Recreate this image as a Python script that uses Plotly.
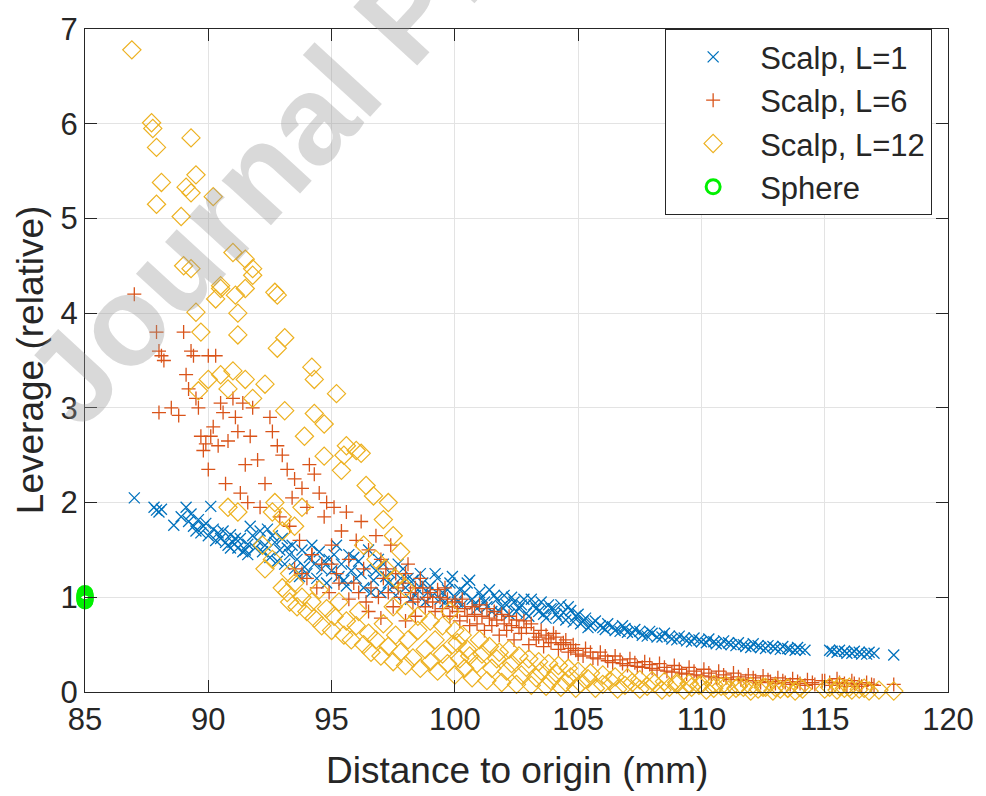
import plotly.graph_objects as go

# ---------------- data ----------------
blue_pts = [
    (87.0, 2.05), (87.8, 1.95), (87.9, 1.92), (88.0, 1.90), (88.1, 1.93), (88.6, 1.76), (88.9, 1.85),
    (89.1, 1.95), (89.2, 1.80), (89.3, 1.88), (89.4, 1.75), (89.5, 1.70), (89.6, 1.82), (89.7, 1.68),
    (89.8, 1.75), (89.9, 1.78), (90.1, 1.96), (90.0, 1.65), (90.2, 1.72), (90.3, 1.60), (90.4, 1.68),
    (90.5, 1.62), (90.6, 1.70), (90.7, 1.58), (90.8, 1.55), (90.9, 1.66), (90.9, 1.52), (91.0, 1.58),
    (91.1, 1.62), (91.2, 1.52), (91.3, 1.62), (91.4, 1.48), (91.5, 1.50), (91.6, 1.56), (91.6, 1.45),
    (91.7, 1.75), (91.8, 1.65), (91.9, 1.52), (92.0, 1.60), (92.1, 1.70), (92.2, 1.48), (92.3, 1.55),
    (92.4, 1.72), (92.5, 1.42), (92.6, 1.65), (92.7, 1.58), (92.8, 1.38), (92.9, 1.50), (93.0, 1.62),
    (93.1, 1.35), (93.2, 1.52), (93.3, 1.45), (93.4, 1.55), (93.5, 1.30), (93.6, 1.40), (93.7, 1.22),
    (93.8, 1.50), (93.9, 1.32), (94.0, 1.25), (94.1, 1.42), (94.2, 1.55), (94.3, 1.35), (94.4, 1.20),
    (94.5, 1.48), (94.6, 1.30), (94.7, 1.38), (94.8, 1.15), (94.9, 1.40), (95.0, 1.28), (95.1, 1.45),
    (95.2, 1.55), (95.3, 1.22), (95.4, 1.35), (95.5, 1.18), (95.6, 1.12), (95.7, 1.45), (95.8, 1.28),
    (95.9, 1.42), (96.0, 1.20), (96.1, 1.38), (96.2, 1.25), (96.3, 1.10), (96.4, 1.30), (96.5, 1.50),
    (96.6, 1.05), (96.7, 1.18), (96.8, 1.28), (96.9, 1.40), (97.0, 1.05), (97.1, 1.35), (97.2, 1.22),
    (97.3, 1.15), (97.4, 1.25), (97.5, 1.12), (97.6, 1.02), (97.7, 1.35), (97.8, 1.20), (97.9, 1.30),
    (98.0, 1.10), (98.1, 1.20), (98.2, 0.98), (98.3, 1.18), (98.4, 1.02), (98.5, 1.08), (98.6, 1.25),
    (98.7, 1.15), (98.8, 0.95), (98.9, 1.05), (99.0, 1.12), (99.1, 1.02), (99.2, 1.25), (99.3, 1.20),
    (99.4, 0.98), (99.5, 1.05), (99.6, 0.95), (99.7, 1.08), (99.8, 1.15), (99.9, 1.22), (100.0, 1.00),
    (100.1, 0.95), (100.2, 1.08), (100.3, 0.92), (100.4, 1.05), (100.5, 1.15), (100.6, 1.18),
    (100.7, 0.98), (100.8, 0.93), (100.9, 0.88), (101.0, 1.05), (101.1, 1.00), (101.2, 0.95),
    (101.3, 0.90), (101.4, 1.08), (101.5, 0.85), (101.6, 1.02), (101.7, 0.98), (101.8, 0.85),
    (101.9, 0.90), (102.0, 1.02), (102.1, 0.92), (102.2, 0.82), (102.3, 1.00), (102.4, 0.95),
    (102.5, 0.85), (102.6, 0.88), (102.7, 0.92), (102.8, 0.98), (102.9, 0.83), (103.0, 0.80),
    (103.1, 0.98), (103.2, 0.92), (103.3, 0.88), (103.4, 0.85), (103.5, 0.95), (103.6, 0.82),
    (103.7, 0.78), (103.8, 0.92), (103.9, 0.88), (104.0, 0.88), (104.1, 0.82), (104.2, 0.78),
    (104.3, 0.92), (104.4, 0.84), (104.5, 0.76), (104.6, 0.90), (104.7, 0.86), (104.8, 0.74),
    (104.9, 0.80), (105.0, 0.82), (105.1, 0.72), (105.2, 0.75), (105.3, 0.78), (105.4, 0.68),
    (105.5, 0.70), (105.6, 0.73), (105.7, 0.75), (105.9, 0.70), (106.0, 0.68), (106.1, 0.66),
    (106.2, 0.72), (106.4, 0.69), (106.5, 0.65), (106.7, 0.64), (106.8, 0.70), (106.9, 0.67),
    (107.0, 0.63), (107.2, 0.62), (107.3, 0.66), (107.5, 0.64), (107.6, 0.60), (107.8, 0.59),
    (107.9, 0.64), (108.0, 0.62), (108.2, 0.58), (108.4, 0.58), (108.5, 0.62), (108.7, 0.59),
    (108.8, 0.56), (109.0, 0.55), (109.1, 0.59), (109.3, 0.57), (109.4, 0.54), (109.6, 0.53),
    (109.7, 0.57), (109.9, 0.55), (110.0, 0.53), (110.2, 0.52), (110.3, 0.56), (110.5, 0.53),
    (110.6, 0.51), (110.8, 0.50), (110.9, 0.54), (111.1, 0.52), (111.2, 0.50), (111.4, 0.49),
    (111.5, 0.52), (111.7, 0.50), (111.8, 0.48), (112.0, 0.47), (112.1, 0.51), (112.3, 0.49),
    (112.4, 0.47), (112.6, 0.46), (112.7, 0.49), (112.9, 0.48), (113.0, 0.46), (113.2, 0.45),
    (113.3, 0.48), (113.5, 0.46), (113.6, 0.45), (113.8, 0.44), (113.9, 0.47), (114.0, 0.45),
    (114.2, 0.44), (115.2, 0.44), (115.3, 0.43), (115.5, 0.42), (115.6, 0.44), (115.8, 0.43),
    (115.9, 0.41), (116.1, 0.41), (116.2, 0.43), (116.4, 0.42), (116.5, 0.40), (116.7, 0.40),
    (116.8, 0.42), (117.0, 0.41), (117.8, 0.39),
]

red_pts = [
    (87.0, 4.20), (87.9, 3.80), (88.0, 3.60), (88.1, 3.55), (88.2, 3.50), (88.0, 2.95), (88.5, 3.00),
    (88.8, 2.92), (89.0, 3.80), (89.1, 3.35), (89.2, 3.20), (89.3, 3.60), (89.4, 3.55), (89.5, 3.10),
    (89.6, 3.00), (89.7, 2.70), (89.8, 2.55), (89.9, 2.62), (90.0, 3.55), (90.0, 2.35), (90.1, 2.70),
    (90.2, 2.80), (90.3, 3.55), (90.4, 2.60), (90.5, 3.05), (90.6, 2.95), (90.7, 2.20), (90.8, 2.65),
    (91.0, 3.10), (91.1, 2.90), (91.2, 2.75), (91.3, 2.10), (91.4, 3.05), (91.5, 2.40), (91.6, 2.00),
    (91.7, 2.70), (91.8, 3.00), (92.0, 2.45), (92.1, 1.95), (92.3, 2.20), (92.5, 2.90), (92.6, 2.75),
    (92.8, 2.60), (92.9, 1.85), (93.0, 2.50), (93.2, 2.35), (93.3, 1.75), (93.4, 2.05), (93.5, 2.25),
    (93.7, 1.60), (93.8, 2.15), (94.0, 1.95), (94.1, 2.40), (94.2, 1.45), (94.3, 2.30), (94.5, 2.10),
    (94.6, 1.35), (94.7, 1.85), (94.8, 2.00), (95.0, 1.55), (95.1, 1.95), (95.2, 1.25), (95.4, 1.70),
    (95.6, 1.90), (95.7, 1.40), (95.9, 1.15), (96.0, 1.60), (96.2, 1.80), (96.3, 1.30), (96.5, 1.50),
    (96.6, 1.10), (96.8, 1.65), (97.0, 1.40), (97.1, 1.20), (97.3, 1.05), (97.4, 1.55), (97.6, 1.25),
    (97.8, 1.00), (97.9, 1.15), (98.1, 1.35), (98.3, 0.95), (98.4, 1.10), (98.6, 1.20), (98.8, 0.90),
    (99.0, 1.05), (99.2, 0.85), (99.4, 1.00), (99.6, 1.10), (99.8, 0.80), (100.0, 0.95), (100.2, 0.75),
    (100.4, 0.88), (100.6, 0.70), (100.8, 0.82), (101.0, 0.92), (101.2, 0.65), (101.4, 0.78),
    (101.6, 0.85), (101.8, 0.60), (102.0, 0.72), (102.2, 0.80), (102.4, 0.55), (102.6, 0.68),
    (102.8, 0.75), (103.0, 0.50), (103.2, 0.62), (103.4, 0.58), (103.6, 0.48), (103.8, 0.56),
    (104.0, 0.62), (104.2, 0.45), (104.4, 0.52), (104.6, 0.42), (104.8, 0.50), (105.0, 0.40),
    (105.3, 0.46), (105.6, 0.36), (105.9, 0.42), (106.2, 0.33), (106.5, 0.38), (106.8, 0.30),
    (107.1, 0.35), (107.4, 0.27), (107.7, 0.32), (108.0, 0.25), (108.3, 0.30), (108.6, 0.22),
    (108.9, 0.28), (109.2, 0.20), (109.5, 0.26), (109.8, 0.18), (110.1, 0.24), (110.4, 0.16),
    (110.7, 0.22), (111.0, 0.15), (111.3, 0.20), (111.6, 0.13), (111.9, 0.18), (112.2, 0.12),
    (112.5, 0.17), (112.8, 0.11), (113.1, 0.15), (113.4, 0.10), (113.7, 0.14), (114.0, 0.09),
    (114.3, 0.13), (114.6, 0.08), (114.9, 0.12), (115.2, 0.10), (115.5, 0.14), (115.8, 0.09),
    (116.1, 0.12), (116.4, 0.08), (116.7, 0.10), (117.0, 0.07), (117.8, 0.08),
    (93.5, 1.30), (93.8, 1.25), (94.0, 1.20), (94.2, 1.45), (94.4, 1.10), (94.9, 1.05), (95.0, 1.35),
    (95.3, 1.15), (95.7, 0.98), (96.1, 1.05), (96.4, 0.95), (96.9, 1.00), (96.5, 0.85), (97.0, 0.78),
    (97.5, 0.90), (98.0, 0.75), (98.4, 0.80), (97.2, 1.30), (97.7, 1.10), (98.0, 1.25), (98.2, 1.05),
    (98.5, 0.98), (98.7, 1.10), (98.9, 1.00), (99.1, 0.95), (99.3, 1.08), (99.5, 0.88), (99.7, 0.98),
    (99.9, 0.90), (100.1, 0.85), (100.3, 0.98), (100.5, 0.80), (100.7, 0.90), (100.9, 0.72),
    (101.1, 0.80), (101.3, 0.88), (101.5, 0.70), (101.7, 0.76), (101.9, 0.82), (102.1, 0.65),
    (102.3, 0.70), (102.5, 0.76), (102.7, 0.62), (102.9, 0.68), (103.1, 0.72), (103.3, 0.55),
    (103.5, 0.65), (103.7, 0.60), (103.9, 0.52), (104.1, 0.58), (104.3, 0.50), (104.5, 0.55),
    (104.7, 0.46), (104.9, 0.44), (105.2, 0.38), (105.5, 0.42), (105.8, 0.35), (106.1, 0.38),
    (106.4, 0.31), (106.7, 0.34), (107.0, 0.28), (107.3, 0.31), (107.6, 0.26), (107.9, 0.29),
    (108.2, 0.23), (108.5, 0.26), (108.8, 0.21), (109.1, 0.24), (109.4, 0.19), (109.7, 0.22),
    (110.0, 0.17), (110.3, 0.20), (110.6, 0.15), (110.9, 0.18), (111.2, 0.13), (111.5, 0.16),
    (111.8, 0.12), (112.1, 0.15), (112.4, 0.10), (112.7, 0.13), (113.0, 0.09), (113.3, 0.12),
    (113.6, 0.08), (113.9, 0.11), (114.2, 0.07), (114.5, 0.10), (115.0, 0.12), (115.3, 0.07),
    (115.6, 0.10), (115.9, 0.06), (116.2, 0.09), (116.5, 0.06), (116.9, 0.08),
]

yellow_pts = [
    (86.9, 6.78), (87.7, 6.01), (87.75, 5.95), (87.9, 5.75), (89.3, 5.85), (88.1, 5.38), (87.9, 5.15),
    (89.1, 5.33), (89.5, 5.46), (89.3, 5.27), (90.2, 5.23), (88.9, 5.02), (89.0, 4.50), (89.3, 4.47),
    (91.0, 4.64), (91.5, 4.57), (91.8, 4.47), (91.8, 4.40), (90.5, 4.26), (91.1, 4.19), (91.5, 4.26),
    (92.7, 4.22), (89.5, 4.01), (89.7, 3.80), (90.3, 4.15), (90.5, 4.29), (91.2, 4.00), (91.2, 3.77),
    (92.8, 4.19), (92.8, 3.63), (93.1, 3.74), (94.2, 3.43), (94.3, 3.30), (95.2, 3.15), (90.5, 3.35),
    (90.8, 3.20), (91.0, 3.39), (91.5, 3.30), (91.8, 3.10), (92.3, 3.25), (89.6, 3.18), (90.0, 3.30),
    (93.1, 2.97), (94.3, 2.94), (94.7, 2.83), (93.9, 2.70), (95.6, 2.60), (96.0, 2.55), (95.4, 2.34),
    (94.7, 2.49), (95.5, 2.50), (96.2, 2.52), (96.4, 2.18), (96.7, 2.07), (97.1, 1.82), (97.3, 2.00),
    (97.8, 1.48), (97.5, 1.65), (92.7, 2.00), (93.0, 1.85), (93.5, 1.75), (93.8, 1.95), (92.3, 1.30),
    (90.8, 1.95), (91.2, 1.90), (92.6, 1.90), (93.0, 1.70), (92.2, 1.55), (92.6, 1.40), (93.3, 1.25),
    (96.3, 1.55), (96.8, 1.40), (97.2, 1.30), (97.6, 1.20), (98.0, 1.10),
    (93.0, 1.10), (93.2, 1.05), (93.3, 0.95), (93.5, 1.15), (93.6, 0.90), (93.8, 1.00), (94.0, 0.85),
    (94.2, 0.95), (94.3, 0.78), (94.5, 1.08), (94.6, 0.70), (94.8, 0.88), (95.0, 0.65), (95.1, 0.80),
    (95.3, 0.95), (95.5, 0.60), (95.6, 0.75), (95.8, 0.55), (96.0, 0.70), (96.1, 0.85), (96.3, 0.50),
    (96.5, 0.62), (96.6, 0.42), (96.8, 0.55), (97.0, 0.38), (97.1, 0.72), (97.3, 0.48), (97.5, 0.32),
    (97.6, 0.60), (97.8, 0.42), (98.0, 0.28), (98.1, 0.55), (98.3, 0.36), (98.5, 0.65), (98.6, 0.25),
    (98.8, 0.45), (99.0, 0.32), (99.2, 0.55), (99.3, 0.22), (99.5, 0.40), (99.7, 0.30), (99.9, 0.50),
    (100.0, 0.18), (100.2, 0.35), (100.4, 0.25), (100.5, 0.45), (100.7, 0.15), (100.9, 0.30),
    (101.1, 0.40), (101.3, 0.12), (101.5, 0.25), (101.7, 0.35), (101.9, 0.10), (102.1, 0.22),
    (102.3, 0.30), (102.5, 0.08), (102.7, 0.18), (102.9, 0.26), (103.1, 0.07), (103.3, 0.15),
    (103.5, 0.22), (103.7, 0.06), (103.9, 0.12), (104.1, 0.20), (104.3, 0.05), (104.5, 0.10),
    (104.7, 0.16), (104.9, 0.04), (105.1, 0.09), (105.4, 0.14), (105.7, 0.04), (106.0, 0.08),
    (106.3, 0.12), (106.6, 0.03), (106.9, 0.07), (107.2, 0.10), (107.5, 0.03), (107.8, 0.06),
    (108.1, 0.09), (108.4, 0.02), (108.7, 0.05), (109.0, 0.08), (109.3, 0.02), (109.6, 0.05),
    (109.9, 0.07), (110.2, 0.02), (110.5, 0.04), (110.8, 0.06), (111.1, 0.02), (111.4, 0.04),
    (111.7, 0.05), (112.0, 0.01), (112.3, 0.03), (112.6, 0.05), (112.9, 0.01), (113.2, 0.03),
    (113.5, 0.04), (113.8, 0.01), (114.1, 0.03), (115.2, 0.05), (115.5, 0.02), (115.8, 0.04),
    (116.1, 0.02), (116.4, 0.03), (116.8, 0.01), (117.8, 0.01),
    (98.0, 0.85), (97.5, 0.90), (98.5, 0.80), (99.0, 0.75), (99.5, 0.70), (99.8, 0.85), (100.0, 0.65),
    (100.3, 0.60), (100.1, 0.52), (100.6, 0.38), (101.0, 0.55), (101.4, 0.48), (101.8, 0.42),
    (102.2, 0.45), (102.6, 0.38), (103.0, 0.35), (103.4, 0.32), (103.8, 0.30), (104.2, 0.28),
    (104.6, 0.25), (105.0, 0.22), (105.5, 0.20), (106.0, 0.18), (106.5, 0.16), (107.0, 0.15),
    (107.5, 0.13), (108.0, 0.12), (108.5, 0.11), (109.0, 0.10), (109.5, 0.09), (110.0, 0.08),
    (110.5, 0.08), (111.0, 0.07), (111.5, 0.06), (112.0, 0.06), (112.5, 0.05), (113.0, 0.05),
    (113.5, 0.04), (114.0, 0.05), (115.0, 0.03), (115.6, 0.06), (116.0, 0.05), (116.6, 0.04),
    (117.2, 0.02),
]

sphere_x = [85.0, 85.0, 85.0, 85.0, 85.0, 85.0, 85.0, 85.0, 85.0, 85.0]
sphere_y = [0.96, 0.97, 0.98, 0.99, 1.00, 1.00, 1.01, 1.02, 1.03, 1.04]

blue_x = [p[0] for p in blue_pts]
blue_y = [p[1] for p in blue_pts]
red_x = [p[0] for p in red_pts]
red_y = [p[1] for p in red_pts]
yellow_x = [p[0] for p in yellow_pts]
yellow_y = [p[1] for p in yellow_pts]

series_names = ["Scalp, L=1", "Scalp, L=6", "Scalp, L=12", "Sphere"]
x_ticks = [85, 90, 95, 100, 105, 110, 115, 120]
y_ticks = [0, 1, 2, 3, 4, 5, 6, 7]

FONT = "Liberation Sans, Arial, Helvetica, sans-serif"
AX = "#262626"

fig = go.Figure()
fig.add_trace(go.Scatter(x=blue_x, y=blue_y, mode="markers", name=series_names[0], cliponaxis=False,
                         marker=dict(symbol="x-thin-open", size=11, color="#0072BD",
                                     line=dict(color="#0072BD", width=1.3))))
fig.add_trace(go.Scatter(x=red_x, y=red_y, mode="markers", name=series_names[1], cliponaxis=False,
                         marker=dict(symbol="cross-thin-open", size=10, color="#D95319",
                                     line=dict(color="#D95319", width=1.3))))
fig.add_trace(go.Scatter(x=yellow_x, y=yellow_y, mode="markers", name=series_names[2], cliponaxis=False,
                         marker=dict(symbol="diamond-open", size=14, color="#EDB120",
                                     line=dict(color="#EDB120", width=1.2))))
fig.add_trace(go.Scatter(x=sphere_x, y=sphere_y, mode="markers", name=series_names[3], cliponaxis=False,
                         marker=dict(symbol="circle-open", size=14, color="#00F000",
                                     line=dict(color="#00F000", width=3))))

axis_common = dict(
    showgrid=True, gridcolor="#E3E3E3", gridwidth=1,
    showline=True, linecolor=AX, linewidth=1.2, mirror="ticks",
    ticks="inside", ticklen=12, tickwidth=1.2, tickcolor=AX,
    tickfont=dict(family=FONT, size=31, color=AX), zeroline=False,
)

fig.update_layout(
    width=986, height=796,
    margin=dict(l=85, r=29, t=20, b=104),
    paper_bgcolor="white", plot_bgcolor="white",
    font=dict(family=FONT, color=AX),
    xaxis=dict(range=[85, 120], tickvals=x_ticks, ticktext=[str(v) for v in x_ticks], **axis_common),
    yaxis=dict(range=[0, 7], tickvals=y_ticks, ticktext=[str(v) for v in y_ticks], **axis_common),
    legend=dict(x=0.672, y=1.0, xanchor="left", yanchor="top",
                bgcolor="white", bordercolor=AX, borderwidth=1.2,
                font=dict(family=FONT, size=31, color=AX),
                itemwidth=84, tracegroupgap=0, itemclick=False),
    showlegend=True,
)

annotations = [
    dict(text="Distance to origin (mm)", xref="paper", yref="paper", x=0.5, y=-0.119,
         xanchor="center", yanchor="middle", showarrow=False,
         font=dict(family=FONT, size=37, color=AX)),
    dict(text="Leverage (relative)", xref="paper", yref="paper", x=-0.063, y=0.5,
         xanchor="center", yanchor="middle", textangle=-90, showarrow=False,
         font=dict(family=FONT, size=37, color=AX)),
    dict(text="<b>Journal Pre-proof</b>", xref="paper", yref="paper",
         x=0.3720, y=1.0230,
         xanchor="center", yanchor="middle", textangle=-47.5, showarrow=False,
         font=dict(family=FONT, size=126, color="rgba(150,150,150,0.36)")),
]
fig.update_layout(annotations=annotations)

fig.write_html("out.html")
